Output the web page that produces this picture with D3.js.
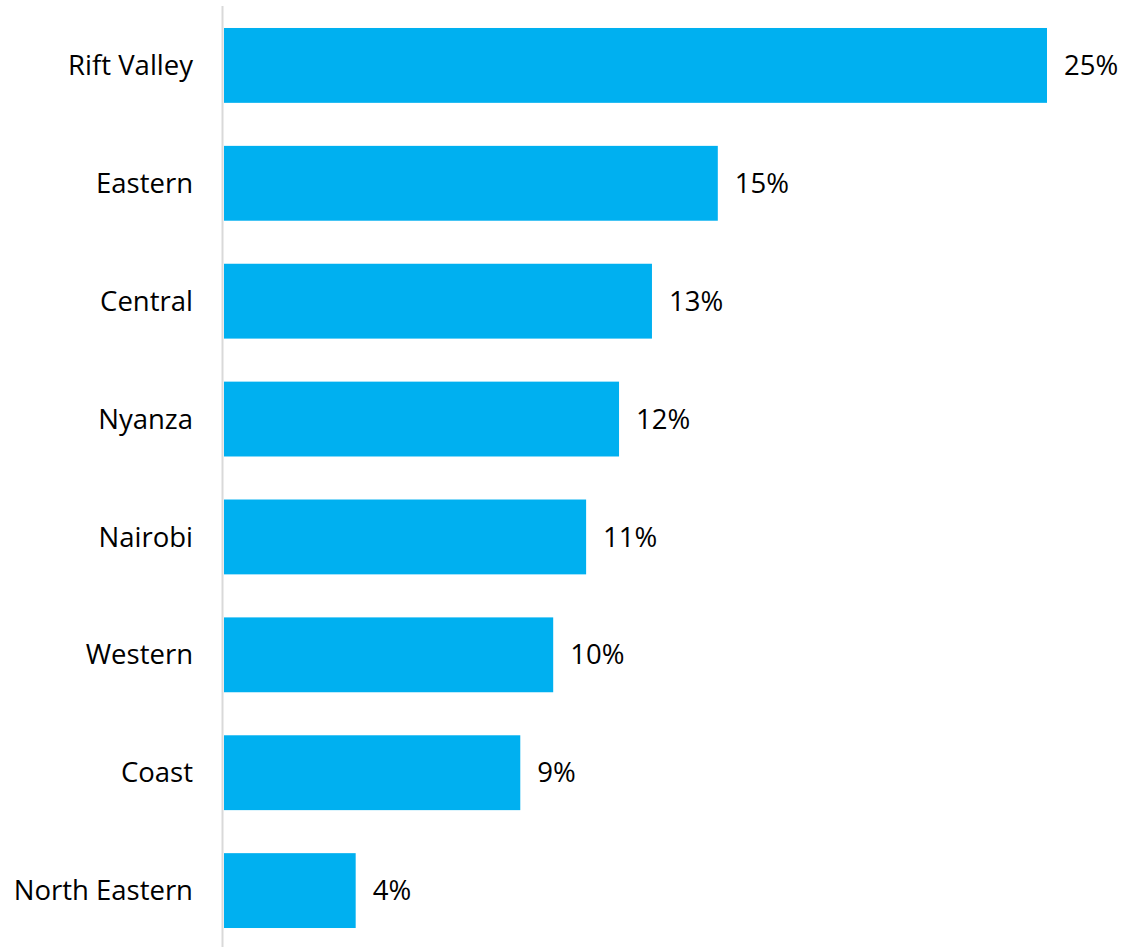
<!DOCTYPE html>
<html>
<head>
<meta charset="utf-8">
<script src="https://cdn.jsdelivr.net/npm/d3@7"></script>
<style>
  body { margin: 0; background: #fff; }
  text { font-family: "Open Sans", "Noto Sans", sans-serif; fill: #000; }
</style>
</head>
<body>
<div id="chart"></div>
<script>
const regions = ["Rift Valley", "Eastern", "Central", "Nyanza", "Nairobi", "Western", "Coast", "North Eastern"];
const shares = [25, 15, 13, 12, 11, 10, 9, 4];

const width = 1124, height = 947;

const x = d3.scaleLinear()
    .domain([0, 25])
    .range([224, 1047]);

const y = d3.scaleBand()
    .domain(regions)
    .range([6, 950])
    .paddingInner(0.365)
    .paddingOuter(0.1865);

const svg = d3.select('#chart')
    .append('svg')
    .attr('width', width)
    .attr('height', height);

svg.selectAll('rect.bar')
    .data(regions)
    .enter().append('rect')
    .attr('class', 'bar')
    .attr('x', x(0))
    .attr('y', d => y(d))
    .attr('width', (d, i) => x(shares[i]) - x(0))
    .attr('height', y.bandwidth())
    .attr('fill', '#00b0f0');

// category axis line
svg.append('line')
    .attr('x1', 222.5).attr('x2', 222.5)
    .attr('y1', 6).attr('y2', height)
    .attr('stroke', '#d9d9d9')
    .attr('stroke-width', 2);

svg.selectAll('text.cat')
    .data(regions)
    .enter().append('text')
    .attr('class', 'cat')
    .attr('x', 193)
    .attr('y', d => y(d) + y.bandwidth() / 2)
    .attr('dy', '0.35em')
    .attr('text-anchor', 'end')
    .style('font-size', '27.5px')
    .text(d => d);

svg.selectAll('text.val')
    .data(regions)
    .enter().append('text')
    .attr('class', 'val')
    .attr('x', (d, i) => x(shares[i]) + 17)
    .attr('y', d => y(d) + y.bandwidth() / 2)
    .attr('dy', '0.35em')
    .style('font-size', '27.5px')
    .text((d, i) => shares[i] + '%');
</script>
</body>
</html>
